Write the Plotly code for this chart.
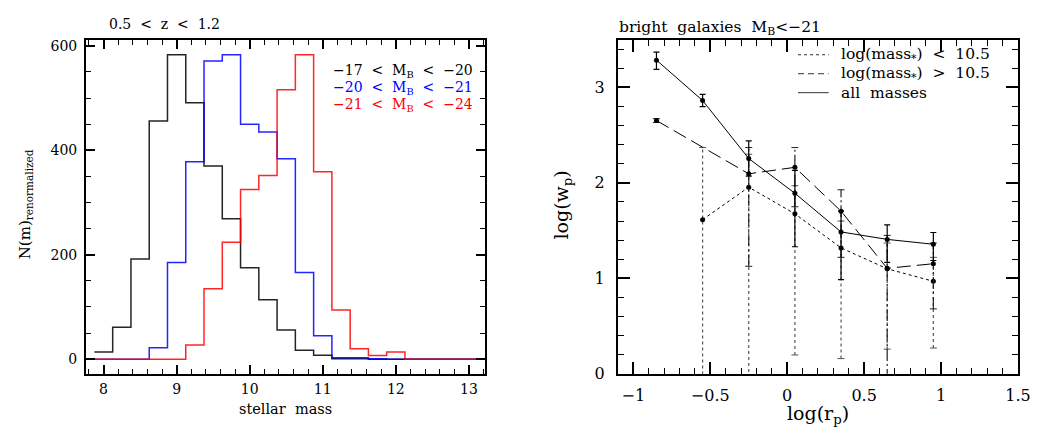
import plotly.graph_objects as go

# ---------------- data: left panel (histograms) ----------------
mass_centers = [8.0, 8.25, 8.5, 8.75, 9.0, 9.25, 9.5, 9.75, 10.0, 10.25, 10.5,
                10.75, 11.0, 11.25, 11.5, 11.75, 12.0, 12.25, 12.5, 12.75, 13.0]
n_faint = [14, 61, 192, 456, 583, 491, 370, 269, 175, 114, 56,
           17, 7.5, 1, 1, 0, 0, 0, 0, 0, 0]
n_mid = [0, 0, 0, 22, 185, 378, 571, 583, 450, 435, 384,
         166, 45, 3, 3, 1, 0, 0, 0, 0, 0]
n_bright = [0, 0, 0, 0, 0, 27, 135, 224, 325, 352, 516,
            583, 359, 94, 20, 7, 14, 0, 0, 0, 0]
hist_labels = ["−17  <  M<sub>B</sub>  <  −20", "−20  <  M<sub>B</sub>  <  −21", "−21  <  M<sub>B</sub>  <  −24"]
hist_colors = ["#000000", "#0000ff", "#ff0000"]

# ---------------- data: right panel (correlation) ----------------
rp_all = [-0.85, -0.55, -0.25, 0.05, 0.35, 0.65, 0.95]
wp_all = [3.286, 2.863, 2.255, 1.891, 1.486, 1.408, 1.357]
wp_all_plus = [0.084, 0.065, 0.185, 0.24, 0.22, 0.153, 0.123]
wp_all_minus = [0.096, 0.065, 0.185, 0.56, 0.50, 0.24, 0.17]

rp_high = [-0.85, -0.25, 0.05, 0.35, 0.65, 0.95]
wp_high = [2.653, 2.095, 2.163, 1.704, 1.105, 1.153]
wp_high_plus = [0.02, 0.275, 0.207, 0.224, 0.345, 0.217]
wp_high_minus = [0.02, 0.969, 0.413, 0.484, 1.6, 0.473]

rp_low = [-0.55, -0.25, 0.05, 0.35, 0.65, 0.95]
wp_low = [1.615, 1.955, 1.676, 1.319, 1.10, 0.969]
wp_low_plus = [0.755, 0.345, 0.294, 0.281, 0.27, 0.251]
wp_low_minus = [2.0, 2.0, 1.479, 1.16, 0.842, 0.699]

legend_labels = ["log(mass<sub>*</sub>)  <  10.5", "log(mass<sub>*</sub>)  >  10.5", "all  masses"]

FONT = "DejaVu Serif"
fig = go.Figure()

# histograms as steps
width = mass_centers[1] - mass_centers[0]
edges = [c - width / 2 for c in mass_centers] + [mass_centers[-1] + width / 2]
for vals, col in zip([n_faint, n_mid, n_bright], hist_colors):
    fig.add_trace(go.Scatter(x=edges, y=list(vals) + [vals[-1]], mode="lines",
                             line=dict(color=col, width=1.5, shape="hv"),
                             opacity=0.85, showlegend=False, xaxis="x", yaxis="y"))


def err_segments(xs, ys, plus, minus):
    sx, sy = [], []
    for x, y, p, m in zip(xs, ys, plus, minus):
        sx += [x, x, None]
        sy += [y - m, y + p, None]
    return sx, sy


# dotted (low mass) series
ex, ey = err_segments(rp_low, wp_low, wp_low_plus, wp_low_minus)
fig.add_trace(go.Scatter(x=ex, y=ey, mode="lines+markers",
                         line=dict(color="#555555", width=1.2, dash="dot"),
                         marker=dict(symbol="line-ew", size=5, line=dict(width=1, color="#555555")),
                         showlegend=False, xaxis="x2", yaxis="y2"))
fig.add_trace(go.Scatter(x=rp_low, y=wp_low, mode="lines+markers",
                         line=dict(color="black", width=1, dash="dot"),
                         marker=dict(color="black", size=5),
                         showlegend=False, xaxis="x2", yaxis="y2"))

# dashed (high mass) series
ex, ey = err_segments(rp_high, wp_high, wp_high_plus, wp_high_minus)
fig.add_trace(go.Scatter(x=ex, y=ey, mode="lines+markers",
                         line=dict(color="#222222", width=1.2, dash="12px,3px,2px,3px"),
                         marker=dict(symbol="line-ew", size=5, line=dict(width=1, color="#222222")),
                         showlegend=False, xaxis="x2", yaxis="y2"))
fig.add_trace(go.Scatter(x=rp_high, y=wp_high, mode="lines+markers",
                         line=dict(color="black", width=1, dash="14px,6px"),
                         marker=dict(color="black", size=5),
                         showlegend=False, xaxis="x2", yaxis="y2"))

# solid (all) series
fig.add_trace(go.Scatter(x=rp_all, y=wp_all, mode="lines+markers",
                         line=dict(color="black", width=1),
                         marker=dict(color="black", size=5),
                         error_y=dict(type="data", symmetric=False, array=wp_all_plus,
                                      arrayminus=wp_all_minus, color="black",
                                      thickness=1.2, width=3),
                         showlegend=False, xaxis="x2", yaxis="y2"))

# ---------------- axes ----------------
axis_common = dict(showline=True, linewidth=2, linecolor="black", mirror="allticks",
                   ticks="inside", tickcolor="black", tickwidth=1.5, showgrid=False,
                   zeroline=False)
L_X0, L_X1 = 79 / 1042, 483 / 1042
R_X0, R_X1 = 617.7 / 1042, 1022.7 / 1042
Y0, Y1 = 1 - 374 / 439, 1 - 31.2 / 439

fig.update_layout(
    width=1042, height=439, margin=dict(l=0, r=0, t=0, b=0),
    paper_bgcolor="white", plot_bgcolor="white",
    font=dict(family=FONT, color="black"),
    xaxis=dict(axis_common, domain=[L_X0, L_X1], range=[7.76, 13.22], anchor="y",
               tickmode="array", tickvals=[8, 9, 10, 11, 12, 13], ticklen=9,
               tickfont=dict(size=14, family=FONT), ticklabelstandoff=1,
               minor=dict(dtick=0.2, tick0=8, ticklen=5, ticks="inside", tickcolor="black", tickwidth=1.2)),
    yaxis=dict(axis_common, domain=[Y0, Y1], range=[-27.9, 610.6], anchor="x",
               tickmode="array", tickvals=[0, 200, 400, 600], ticklen=9,
               tickfont=dict(size=14, family=FONT), ticklabelstandoff=4,
               minor=dict(dtick=50, tick0=0, ticklen=5, ticks="inside", tickcolor="black", tickwidth=1.2)),
    xaxis2=dict(axis_common, domain=[R_X0, R_X1], range=[-1.1, 1.5], anchor="y2",
                tickmode="array", tickvals=[-1, -0.5, 0, 0.5, 1, 1.5], ticktext=["−1", "−0.5", "0", "0.5", "1", "1.5"],
                ticklen=12, tickfont=dict(size=16, family=FONT), ticklabelstandoff=6,
                minor=dict(dtick=0.1, tick0=0, ticklen=6, ticks="inside", tickcolor="black", tickwidth=1.2)),
    yaxis2=dict(axis_common, domain=[Y0, Y1 + 0.0015], range=[0, 3.5], anchor="x2",
                tickmode="array", tickvals=[0, 1, 2, 3], ticklen=12,
                tickfont=dict(size=16, family=FONT), ticklabelstandoff=8,
                minor=dict(dtick=0.2, tick0=0, ticklen=6, ticks="inside", tickcolor="black", tickwidth=1.2)),
)

ann = []
# titles
ann.append(dict(text="0.5  <  z  <  1.2", x=100 / 1042, y=1 - 14 / 439, xref="paper", yref="paper",
                xanchor="left", yanchor="middle", showarrow=False, font=dict(size=14)))
ann.append(dict(text="bright  galaxies  M<sub>B</sub><−21", x=617 / 1042, y=1 - 18 / 439, xref="paper", yref="paper",
                xanchor="left", yanchor="middle", showarrow=False, font=dict(size=15.5)))
# axis titles
ann.append(dict(text="stellar  mass", x=281 / 1042, y=1 - 410 / 439, xref="paper", yref="paper",
                xanchor="center", yanchor="middle", showarrow=False, font=dict(size=14.5)))
ann.append(dict(text="N(m)<sub>renormalized</sub>", x=18 / 1042, y=1 - 200 / 439, xref="paper", yref="paper",
                xanchor="center", yanchor="middle", showarrow=False, textangle=-90, font=dict(size=15)))
ann.append(dict(text="log(r<sub>p</sub>)", x=820 / 1042, y=1 - 416 / 439, xref="paper", yref="paper",
                xanchor="center", yanchor="middle", showarrow=False, font=dict(size=19)))
ann.append(dict(text="log(w<sub>p</sub>)", x=562 / 1042, y=1 - 200 / 439, xref="paper", yref="paper",
                xanchor="center", yanchor="middle", showarrow=False, textangle=-90, font=dict(size=19)))
# left legend (colored text)
for i, (lab, col) in enumerate(zip(hist_labels, hist_colors)):
    ann.append(dict(text=lab, x=473 / 1042, y=1 - (63 + 17.5 * i) / 439, xref="paper", yref="paper",
                    xanchor="right", yanchor="middle", showarrow=False, font=dict(size=14, color=col)))
# right legend
legend_dash = ["dot", "6px,4px", "solid"]
for i, (lab, dsh) in enumerate(zip(legend_labels, legend_dash)):
    yy = 1 - (46 + 19.5 * i) / 439
    ann.append(dict(text=lab, x=841 / 1042, y=yy, xref="paper", yref="paper",
                    xanchor="left", yanchor="middle", showarrow=False, font=dict(size=15.5)))
    fig.add_shape(type="line", x0=800 / 1042, x1=831 / 1042, y0=yy, y1=yy, xref="paper", yref="paper",
                  line=dict(color="#333333", width=1, dash=dsh))

fig.update_layout(annotations=ann)
fig.write_html("out.html")
